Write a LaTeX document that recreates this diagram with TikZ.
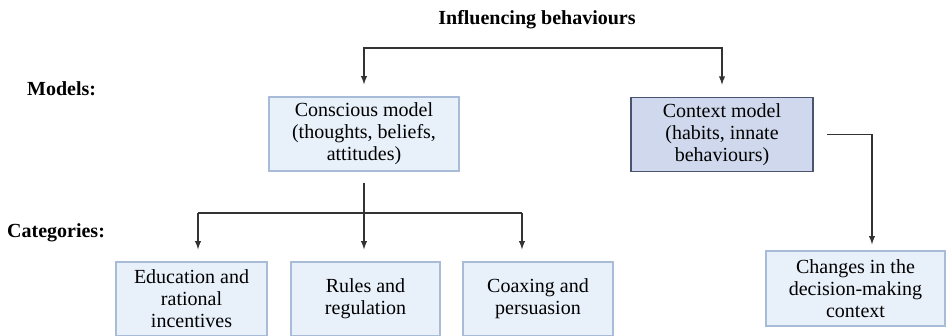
\documentclass[tikz,border=0pt]{standalone}
\usepackage{fontspec}
\setmainfont{Liberation Serif}
\usetikzlibrary{arrows,shapes,positioning}

\definecolor{boxfill}{HTML}{E8F0FA}
\definecolor{boxline}{HTML}{A8BCD8}
\definecolor{ctxfill}{HTML}{CFD8EC}
\definecolor{ctxline}{HTML}{4A5470}
\definecolor{wire}{HTML}{333333}

\newcommand{\bigtext}{\fontsize{20}{22}\selectfont}

\tikzset{
  every node/.style={font=\bigtext},
  modelbox/.style={draw=boxline, fill=boxfill, line width=1.4pt, align=center,
    minimum height=74pt, inner sep=0pt},
  ctxbox/.style={modelbox, draw=ctxline, fill=ctxfill, line width=1.8pt},
  link/.style={draw=wire, line width=1.8pt, -latex},
  plain/.style={draw=wire, line width=1.8pt},
  heading/.style={font=\bigtext\bfseries, anchor=west, inner sep=0pt}
}

\begin{document}
\begin{tikzpicture}[x=1pt, y=-1pt]
			\useasboundingbox (0,0) rectangle (948,335);
			\clip (0,0) rectangle (948,335);
			\fill[white] (0,0) rectangle (948,335);

			\node[font=\bigtext\bfseries] (title) at (537,20) {Influencing behaviours};
			\node[heading] (models) at (27,89) {Models:};
			\node[heading] (cats) at (7,233) {Categories:};

			\node[modelbox, minimum width=190pt] (cons) at (364,134) {Conscious model\\(thoughts, beliefs,\\attitudes)};
			\node[ctxbox, minimum width=182pt] (ctx) at (722,134.5) {Context model\\(habits, innate\\behaviours)};

			\node[modelbox, minimum width=151pt] (edu) at (191.5,299) {Education and\\rational\\incentives};
			\node[modelbox, minimum width=149pt] (rul) at (365.5,299) {Rules and\\regulation};
			\node[modelbox, minimum width=150pt] (cox) at (538,299) {Coaxing and\\persuasion};
			\node[modelbox, minimum width=179pt, minimum height=75pt] (chg) at (855.5,288.5) {Changes in the\\decision-making\\context};

			\coordinate (topbar) at (540,48);
			\coordinate (busL) at (198,213);
			\coordinate (busR) at (522,213);
			\coordinate (turn) at (872,134.5);

			% top bracket
			\draw[link, shorten >=12pt] (topbar) -| (cons.north);
			\draw[link, shorten >=12pt] (topbar) -| (ctx.north);

			% categories
			\draw[plain] (busL) -- (busR);
			\draw[link, shorten <=11pt, shorten >=12pt] (cons.south) -- (cons.south |- rul.north);
			\draw[link, shorten >=12pt] (busL) -- (busL |- edu.north);
			\draw[link, shorten >=12pt] (busR) -- (busR |- cox.north);

			% context branch
			\draw[link, shorten <=13pt, shorten >=6pt] (ctx.east) -- (turn) -- (turn |- chg.north);
		\end{tikzpicture}
\end{document}
